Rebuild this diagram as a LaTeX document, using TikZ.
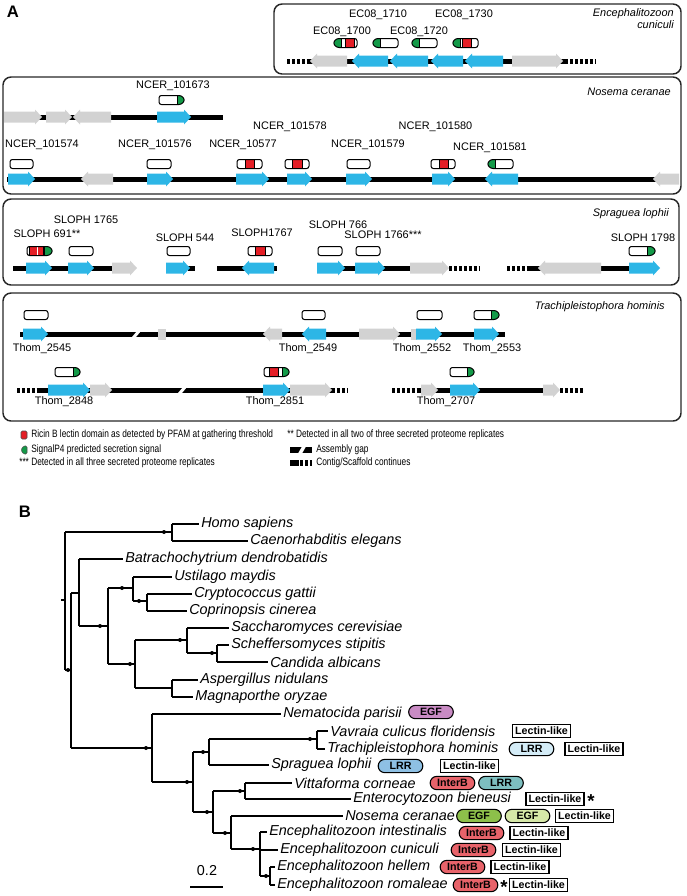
\documentclass[tikz,border=0pt]{standalone}
\usepackage{fontspec}
\setmainfont{Liberation Sans}
\newfontfamily\condf[FakeStretch=0.78]{Liberation Sans}
\definecolor{gblue}{HTML}{2DB6E6}
\definecolor{ggray}{HTML}{D2D2D2}
\definecolor{gred}{HTML}{E41E26}
\definecolor{ggreen}{HTML}{139A48}
\definecolor{pegf}{HTML}{C98BC4}
\definecolor{plrra}{HTML}{D4ECF7}
\definecolor{plrrb}{HTML}{8EC0E4}
\definecolor{plrrc}{HTML}{7DBFC0}
\definecolor{pinterb}{HTML}{E8636A}
\definecolor{pegfa}{HTML}{8DC04A}
\definecolor{pegfb}{HTML}{D6E8A8}
\tikzset{
 trk/.style={line width=3.75pt},
 cont/.style={line width=3.75pt, dash pattern=on 2.3pt off 1.4pt},
 lab/.style={font=\fontsize{8.2}{9}\selectfont, inner sep=0pt},
 spl/.style={font=\fontsize{8.2}{9}\selectfont\itshape, align=right, anchor=east, inner sep=0pt},
 panel/.style={rounded corners=6pt, line width=1.1pt, draw=black!85},
 pb/.style={line width=0.75pt},
 br/.style={line width=0.9pt},
 tl/.style={anchor=west, inner xsep=1.5pt, inner ysep=0pt, font=\fontsize{10.8}{12}\selectfont\itshape},
 pill/.style={rounded corners=5pt, draw=black, line width=0.8pt, minimum width=33.5pt, minimum height=10pt, inner sep=0pt, font=\fontsize{8}{9}\selectfont\bfseries},
 lect/.style={draw=black, line width=1.1pt, minimum width=43.5pt, minimum height=10pt, inner sep=0pt, fill=white, font=\fontsize{8}{9}\selectfont\bfseries},
 dot/.style={circle, fill, inner sep=0pt, minimum size=3pt},
 leg/.style={anchor=west, inner sep=0pt, font=\condf\fontsize{8}{9}\selectfont},
 ast/.style={inner sep=0pt, font=\fontsize{14}{14}\selectfont\bfseries},
}
\newcommand\geneR[4]{\fill[#4] (#1,#3-5.5) -- (#2-7,#3-5.5) -- (#2-7,#3-7.5) -- (#2,#3) -- (#2-7,#3+7.5) -- (#2-7,#3+5.5) -- (#1,#3+5.5) -- cycle;}
\newcommand\geneL[4]{\fill[#4] (#2,#3-5.5) -- (#1+7,#3-5.5) -- (#1+7,#3-7.5) -- (#1,#3) -- (#1+7,#3+7.5) -- (#1+7,#3+5.5) -- (#2,#3+5.5) -- cycle;}
\newcommand\pred[2]{\fill[gred] (#1,\pyy-5) rectangle (#2,\pyy+5); \draw[line width=0.45pt] (#1,\pyy-5) -- (#1,\pyy+5) (#2,\pyy-5) -- (#2,\pyy+5);}
\newcommand\pgrn[2]{\fill[ggreen] (#1,\pyy-5) rectangle (#2,\pyy+5);}
\newcommand\psep[1]{\draw[line width=0.45pt] (#1,\pyy-5) -- (#1,\pyy+5);}
\newcommand\prot[5]{%
 \def\pyy{#4}%
 \if#1L\def\pshape{(#2,#4) -- (#2+3.5,#4-4.5) -- (#3,#4-4.5) -- (#3,#4+4.5) -- (#2+3.5,#4+4.5) -- cycle}\fi
 \if#1R\def\pshape{(#2,#4-4.5) -- (#3-3.5,#4-4.5) -- (#3,#4) -- (#3-3.5,#4+4.5) -- (#2,#4+4.5) -- cycle}\fi
 \if#1N\def\pshape{(#2,#4-4.5) -- (#3,#4-4.5) -- (#3,#4+4.5) -- (#2,#4+4.5) -- cycle}\fi
 \begin{scope}
  \clip[rounded corners=1.8pt] \pshape;
  \fill[white] (#2-2,#4-6) rectangle (#3+2,#4+6);
  #5
 \end{scope}
 \draw[pb,rounded corners=1.8pt] \pshape;
}
\newcommand\agap[2]{\fill[white] (#1,#2+3) -- (#1+4,#2+3) -- (#1+9,#2-3) -- (#1+5,#2-3) -- cycle;}
\begin{document}
\begin{tikzpicture}[x=0.75pt,y=-0.75pt]
\useasboundingbox (0,0) rectangle (686,896);

\node[font=\fontsize{12.5}{13}\selectfont\bfseries] (labA) at (13,12) {A};
\node[font=\fontsize{12.5}{13}\selectfont\bfseries] (labB) at (25,512) {B};

% ---------------- Box 1: E. cuniculi
\draw[panel] (274,4) rectangle (681,74);
\node[spl] (sp1) at (674,19) {Encephalitozoon\\cuniculi};
\draw[cont] (287,61) -- (310,61);
\draw[trk] (308,61) -- (565,61);
\draw[cont] (565,61) -- (596,61);
\geneL{310}{347}{61}{ggray}
\geneL{352}{388}{61}{gblue}
\geneL{390}{428}{61}{gblue}
\geneL{431}{463}{61}{gblue}
\geneL{465}{503}{61}{gblue}
\geneR{512}{563}{61}{ggray}
\prot{L}{333}{357}{43}{\pgrn{333}{341}\psep{341}\pred{345}{354}}
\prot{L}{372}{398}{43}{\pgrn{372}{380}\psep{380}}
\prot{L}{411}{437}{43}{\pgrn{411}{419}\psep{419}}
\prot{L}{452}{478}{43}{\pgrn{452}{460}\psep{460}\pred{462}{471}}
\node[lab] (ec1700) at (342,32) {EC08\_1700};
\node[lab] (ec1710) at (378,15) {EC08\_1710};
\node[lab] (ec1720) at (419,32) {EC08\_1720};
\node[lab] (ec1730) at (464,15) {EC08\_1730};

% ---------------- Box 2: Nosema ceranae
\draw[panel] (3,77) rectangle (681,194);
\node[spl] (sp2) at (671,92) {Nosema ceranae};
\draw[trk] (4,117) -- (223,117);
\geneR{4}{42}{117}{ggray}
\geneR{46}{72}{117}{ggray}
\geneL{73}{111}{117}{ggray}
\geneR{157}{191}{117}{gblue}
\prot{R}{159}{185}{100}{\pgrn{177}{186}\psep{177}}
\node[lab] (n673) at (173,86) {NCER\_101673};

\draw[trk] (7,179) -- (660,179);
\geneR{8}{35}{179}{gblue}
\geneL{81}{113}{179}{ggray}
\geneR{147}{173}{179}{gblue}
\geneR{236}{269}{179}{gblue}
\geneR{287}{312}{179}{gblue}
\geneR{346}{372}{179}{gblue}
\geneR{432}{455}{179}{gblue}
\geneL{485}{518}{179}{gblue}
\geneL{653}{679}{179}{ggray}
\prot{N}{10}{33}{164}{}
\prot{N}{147}{171}{164}{}
\prot{N}{237}{262}{164}{\pred{245}{254}}
\prot{N}{285}{309}{164}{\pred{292}{302}}
\prot{N}{347}{370}{164}{}
\prot{N}{431}{455}{164}{\pred{439}{448}}
\prot{L}{487}{513}{164}{\pgrn{487}{495}\psep{495}}
\node[lab] (n574) at (42,145) {NCER\_101574};
\node[lab] (n576) at (155,145) {NCER\_101576};
\node[lab] (n577) at (243,145) {NCER\_10577};
\node[lab] (n578) at (290,127) {NCER\_101578};
\node[lab] (n579) at (368,145) {NCER\_101579};
\node[lab] (n580) at (435.5,127) {NCER\_101580};
\node[lab] (n581) at (490,148) {NCER\_101581};

% ---------------- Box 3: Spraguea lophii
\draw[panel] (3,199) rectangle (679,285);
\node[spl] (sp3) at (669,214) {Spraguea lophii};
\draw[trk] (13,268) -- (114,268);
\geneR{26}{52}{268}{gblue}
\geneR{68}{94}{268}{gblue}
\geneR{112}{137}{268}{ggray}
\prot{R}{27}{53}{251}{\pred{29}{43}\draw[white,line width=0.6pt] (37.5,\pyy-5) -- (37.5,\pyy+5); \pgrn{44}{54}\psep{44}}
\prot{N}{69}{93}{251}{}
\node[lab] (s691) at (47,234) {SLOPH 691**};
\node[lab] (s1765) at (86,220) {SLOPH 1765};

\draw[trk] (188,268) -- (195,268);
\geneR{166}{190}{268}{gblue}
\prot{N}{167}{190}{251}{}
\node[lab] (s544) at (185,238) {SLOPH 544};

\draw[trk] (217,268) -- (277,268);
\geneL{242}{274}{268}{gblue}
\prot{N}{248}{272}{251}{\pred{255}{265}}
\node[lab] (s1767) at (262,233) {SLOPH1767};

\draw[trk] (320,268) -- (412,268);
\geneR{317}{345}{268}{gblue}
\geneR{355}{385}{268}{gblue}
\geneR{410}{449}{268}{ggray}
\draw[cont] (449,268) -- (480,268);
\prot{N}{318}{342}{251}{}
\prot{N}{356}{380}{251}{}
\node[lab] (s766) at (338,225) {SLOPH 766};
\node[lab] (s1766) at (383,235) {SLOPH 1766***};

\draw[cont] (507,268) -- (530,268);
\draw[trk] (528,268) -- (632,268);
\geneL{538}{601}{268}{ggray}
\geneR{629}{660}{268}{gblue}
\prot{R}{629}{656}{251}{\pgrn{647}{657}\psep{647}}
\node[lab] (s1798) at (643,238) {SLOPH 1798};

% ---------------- Box 4: Trachipleistophora hominis
\draw[panel] (3,293) rectangle (681,421);
\node[spl] (sp4) at (665,307) {Trachipleistophora hominis};
\draw[trk] (20,334) -- (505,334);
\agap{132}{334}
\geneR{23}{48}{334}{gblue}
\fill[ggray] (158,328.5) rectangle (166,339.5);
\geneL{263}{282}{334}{ggray}
\geneL{302}{326}{334}{gblue}
\geneR{359}{400}{334}{ggray}
\fill[ggray] (411,328.5) rectangle (417,339.5);
\geneR{416}{442}{334}{gblue}
\geneR{474}{499}{334}{gblue}
\prot{N}{24}{48}{315}{}
\prot{N}{302}{325}{315}{}
\prot{N}{417}{442}{315}{}
\prot{R}{474}{500}{315}{\pgrn{491}{501}\psep{491}}
\node[lab] (t2545) at (42,349) {Thom\_2545};
\node[lab] (t2549) at (308,349) {Thom\_2549};
\node[lab] (t2552) at (422,349) {Thom\_2552};
\node[lab] (t2553) at (492,349) {Thom\_2553};

\draw[cont] (17,390) -- (40,390);
\draw[trk] (38,390) -- (334,390);
\agap{178}{390}
\draw[cont] (332,390) -- (348,390);
\geneR{48}{90}{390}{gblue}
\geneR{90}{112}{390}{ggray}
\geneR{263}{290}{390}{gblue}
\geneR{290}{332}{390}{ggray}
\prot{R}{55}{81}{372}{\pgrn{73}{82}\psep{73}}
\prot{R}{264}{290}{372}{\pred{269}{278}\pgrn{282}{291}\psep{282}}
\node[lab] (t2848) at (64,402) {Thom\_2848};
\node[lab] (t2851) at (275,402) {Thom\_2851};

\draw[cont] (392,390) -- (420,390);
\draw[trk] (418,390) -- (545,390);
\draw[cont] (560,390) -- (583,390);
\geneR{421}{438}{390}{ggray}
\geneR{450}{480}{390}{gblue}
\geneR{543}{560}{390}{ggray}
\prot{R}{450}{475}{372}{\pgrn{467}{476}\psep{467}}
\node[lab] (t2707) at (446,402) {Thom\_2707};

% ---------------- Legend
\filldraw[fill=gred, draw=black!70, line width=0.4pt, rounded corners=1pt] (21,431) rectangle (27,439);
\filldraw[fill=ggreen, draw=black!70, line width=0.4pt, rounded corners=1pt] (21,450) -- (23.5,446) -- (27,446) -- (27,454) -- (23.5,454) -- cycle;
\node[leg] (lg1) at (31,435) {Ricin B lectin domain as detected by PFAM at gathering threshold};
\node[leg] (lg2) at (31,450) {SignalP4 predicted secretion signal};
\node[leg] (lg3) at (19,463) {*** Detected in all three secreted proteome replicates};
\node[leg] (lg4) at (287,435) {** Detected in all two of three secreted proteome replicates};
\draw[line width=4.5pt] (290,450) -- (312,450);
\fill[white] (298,453.5) -- (302,453.5) -- (306,446.5) -- (302,446.5) -- cycle;
\draw[line width=4pt] (290,463) -- (299,463);
\draw[line width=4pt, dash pattern=on 2.3pt off 1.4pt] (300,463) -- (312,463);
\node[leg] (lg5) at (316,450) {Assembly gap};
\node[leg] (lg6) at (316,463) {Contig/Scaffold continues};

% ---------------- Panel B tree
\draw[br] (61,600) -- (65,600);
\draw[br] (65,532) -- (65,670);
\draw[br] (65,532) -- (172,532); \node[dot] (d1) at (164,532) {};
\draw[br] (172,524) -- (172,541);
\node[tl] (homo) at (199,524) {Homo sapiens}; \draw[br] (172,524) -- (homo.west);
\node[tl] (cele) at (248,541) {Caenorhabditis elegans}; \draw[br] (172,541) -- (cele.west);

\draw[br] (65,670) -- (71,670); \node[dot] (d2) at (68,670) {};
\draw[br] (71,593) -- (71,748);
\draw[br] (71,593) -- (79,593);
\draw[br] (79,559) -- (79,626);
\node[tl] (batr) at (123,559) {Batrachochytrium dendrobatidis}; \draw[br] (79,559) -- (batr.west);
\draw[br] (79,626) -- (108,626); \node[dot] (d3) at (100,626) {};
\draw[br] (108,588) -- (108,664);
\draw[br] (108,588) -- (133,588); \node[dot] (d4) at (122,588) {};
\draw[br] (133,577) -- (133,601);
\node[tl] (usti) at (172,577) {Ustilago maydis}; \draw[br] (133,577) -- (usti.west);
\draw[br] (133,601) -- (147,601); \node[dot] (d5) at (139,601) {};
\draw[br] (147,594) -- (147,611);
\node[tl] (cryp) at (192,594) {Cryptococcus gattii}; \draw[br] (147,594) -- (cryp.west);
\node[tl] (copr) at (187,611) {Coprinopsis cinerea}; \draw[br] (147,611) -- (copr.west);
\draw[br] (108,664) -- (135,664); \node[dot] (d6) at (130,664) {};
\draw[br] (135,640) -- (135,688);
\draw[br] (135,640) -- (187,640); \node[dot] (d7) at (180,640) {};
\draw[br] (187,628) -- (187,653);
\node[tl] (sacc) at (229,628) {Saccharomyces cerevisiae}; \draw[br] (187,628) -- (sacc.west);
\draw[br] (187,653) -- (217,653); \node[dot] (d8) at (212,653) {};
\draw[br] (217,645) -- (217,662);
\node[tl] (sche) at (229,645) {Scheffersomyces stipitis}; \draw[br] (217,645) -- (sche.west);
\node[tl] (cand) at (268,662) {Candida albicans}; \draw[br] (217,662) -- (cand.west);
\draw[br] (135,688) -- (172,688);
\draw[br] (172,680) -- (172,697);
\node[tl] (aspe) at (198,680) {Aspergillus nidulans}; \draw[br] (172,680) -- (aspe.west);
\node[tl] (magn) at (193,697) {Magnaporthe oryzae}; \draw[br] (172,697) -- (magn.west);

\draw[br] (71,748) -- (152,748); \node[dot] (d9) at (146,748) {};
\draw[br] (152,714) -- (152,782);
\node[tl] (nema) at (281,714) {Nematocida parisii}; \draw[br] (152,714) -- (nema.west);
\draw[br] (152,782) -- (193,782); \node[dot] (d10) at (187,782) {};
\draw[br] (193,752) -- (193,812);
\draw[br] (193,752) -- (209,752); \node[dot] (d11) at (203,752) {};
\draw[br] (209,739) -- (209,765);
\draw[br] (209,739) -- (317,739); \node[dot] (d12) at (310,739) {};
\draw[br] (317,731) -- (317,749);
\node[tl] (vavr) at (328,731) {Vavraia culicus floridensis}; \draw[br] (317,731) -- (vavr.west);
\node[tl] (trac) at (325,749) {Trachipleistophora hominis}; \draw[br] (317,749) -- (trac.west);
\node[tl] (spra) at (269,765) {Spraguea lophii}; \draw[br] (209,765) -- (spra.west);
\draw[br] (193,812) -- (213,812); \node[dot] (d13) at (207,812) {};
\draw[br] (213,791) -- (213,833);
\draw[br] (213,791) -- (245,791); \node[dot] (d14) at (240,791) {};
\draw[br] (245,783) -- (245,799);
\node[tl] (vitt) at (292,783) {Vittaforma corneae}; \draw[br] (245,783) -- (vitt.west);
\node[tl] (ente) at (351,799) {Enterocytozoon bieneusi}; \draw[br] (245,799) -- (ente.west);
\draw[br] (213,833) -- (231,833); \node[dot] (d15) at (225,833) {};
\draw[br] (231,816) -- (231,849);
\node[tl] (nose) at (343,816) {Nosema ceranae}; \draw[br] (231,816) -- (nose.west);
\draw[br] (231,849) -- (260,849); \node[dot] (d16) at (253,849) {};
\draw[br] (260,832) -- (260,876);
\node[tl] (eint) at (267,832) {Encephalitozoon intestinalis}; \draw[br] (260,832) -- (eint.west);
\node[tl] (ecun) at (278,850) {Encephalitozoon cuniculi}; \draw[br] (260,850) -- (ecun.west);
\draw[br] (260,876) -- (270,876); \node[dot] (d17) at (266,876) {};
\draw[br] (270,867) -- (270,885);
\node[tl] (ehel) at (275,867) {Encephalitozoon hellem}; \draw[br] (270,867) -- (ehel.west);
\node[tl] (erom) at (275,885) {Encephalitozoon romaleae}; \draw[br] (270,885) -- (erom.west);

% domain tags
\node[pill, fill=pegf] (p1) at (431,712) {EGF};
\node[lect] (k1) at (541.5,731) {Lectin-like};
\node[pill, fill=plrra] (p2) at (531.5,749) {LRR};
\node[lect] (k2) at (594,749) {Lectin-like};
\node[pill, fill=plrrb] (p3) at (400.5,766) {LRR};
\node[lect] (k3) at (469.5,766) {Lectin-like};
\node[pill, fill=pinterb] (p4) at (452.5,783) {InterB};
\node[pill, fill=plrrc] (p5) at (501,783) {LRR};
\node[lect] (k4) at (555,799) {Lectin-like};
\node[ast] (a1) at (591,801) {*};
\node[pill, fill=pegfa] (p6) at (479,816) {EGF};
\node[pill, fill=pegfb] (p7) at (527.5,816) {EGF};
\node[lect] (k5) at (584.5,816) {Lectin-like};
\node[pill, fill=pinterb] (p8) at (481.5,833) {InterB};
\node[lect] (k6) at (539,833) {Lectin-like};
\node[pill, fill=pinterb] (p9) at (473.5,850) {InterB};
\node[lect] (k7) at (531.5,850) {Lectin-like};
\node[pill, fill=pinterb] (p10) at (462.5,867) {InterB};
\node[lect] (k8) at (520,867) {Lectin-like};
\node[pill, fill=pinterb] (p11) at (475.5,885) {InterB};
\node[ast] (a2) at (504,887) {*};
\node[lect] (k9) at (538.5,885) {Lectin-like};

% scale bar
\node[inner sep=0pt, font=\fontsize{10.8}{12}\selectfont] (sc) at (207,871) {0.2};
\coordinate (sb1) at (190,887);
\coordinate (sb2) at (223,887);
\draw[br] (sb1) -- (sb2);
\end{tikzpicture}
\end{document}
